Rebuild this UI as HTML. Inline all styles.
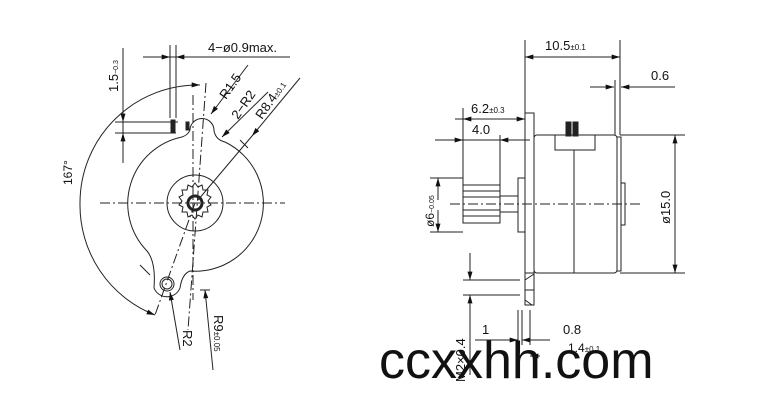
<!DOCTYPE html><html><head><style>body{margin:0;background:#fff}svg{display:block}text{font-family:"Liberation Sans",sans-serif;fill:#111}</style></head><body>
<svg width="757" height="406" viewBox="0 0 757 406" xmlns="http://www.w3.org/2000/svg">
<defs><marker id="a" viewBox="0 0 10 6" refX="10" refY="3" markerWidth="9" markerHeight="5" orient="auto-start-reverse" markerUnits="userSpaceOnUse"><path d="M0,0L10,3L0,6z" fill="#111"/></marker></defs>
<g stroke="#222" stroke-width="1" fill="none">
<!-- left view -->
<path d="M182,137 Q188,135 190,130 A12,12 0 1 1 214,131 Q216,140 225,142 A68,68 0 0 1 190,271 Q182,274 180,288 A14,14 0 0 1 154,288 Q156,262 147,251 A68,68 0 0 1 182,137 Z"/>
<circle cx="195" cy="203" r="28"/>
<circle cx="195" cy="203" r="7" stroke-width="3"/>
<path d="M195,183 l3,4 l4,-2 l1,5 l5,0 l-1,5 l4,2 l-3,4 l3,4 l-4,2 l1,5 l-5,0 l-1,5 l-4,-2 l-3,4 l-3,-4 l-4,2 l-1,-5 l-5,0 l1,-5 l-4,-2 l3,-4 l-3,-4 l4,-2 l-1,-5 l5,0 l1,-5 l4,2 z"/>
<circle cx="167" cy="284" r="7"/><circle cx="167" cy="284" r="5"/>
<rect x="171" y="120" width="4" height="12" fill="#222"/><rect x="186" y="122" width="3" height="8" fill="#222"/>
<path d="M80,203 A118,118 0 0 1 200,85" marker-end="url(#a)"/>
<path d="M80,203 A118,118 0 0 0 155,315" marker-end="url(#a)"/>
<g stroke-dasharray="10,3,2,3"><path d="M100,203H285M193,95V300M206,83L188,330M195,203L155,315"/></g>
<path d="M143,57H290"/>
<path d="M170,45V118M176,45V118"/>
<path d="M150,57H170" marker-end="url(#a)"/><path d="M196,57H176" marker-end="url(#a)"/>
<path d="M123,48V163"/><path d="M115,122H178M115,133H176"/>
<path d="M123,100V122" marker-end="url(#a)"/><path d="M123,150V133" marker-end="url(#a)"/>
<path d="M248,65L211,114" marker-end="url(#a)"/>
<path d="M268,92L222,137" marker-end="url(#a)"/>
<path d="M300,78L252,136" marker-end="url(#a)"/><path d="M252,136L198,200"/>
<path d="M240,140L248,148M140,265L150,275M200,290L210,290"/>
<path d="M180,350L170,292" marker-end="url(#a)"/>
<path d="M213,370L205,290" marker-end="url(#a)"/>
<!-- right view -->
<rect x="525" y="113" width="9" height="160"/>
<rect x="534" y="135" width="83" height="138" rx="3"/>
<path d="M555,135V150H595V135M574,150V273"/>
<rect x="566" y="122" width="5" height="14" fill="#222"/><rect x="573" y="122" width="5" height="14" fill="#222"/>
<rect x="617" y="137" width="4" height="134"/>
<rect x="621" y="183" width="4" height="42"/>
<rect x="463" y="185" width="37" height="38"/>
<path d="M463,191H500M463,197H500M463,210H500M463,216H500"/>
<path d="M500,196H518M500,212H518"/>
<rect x="518" y="178" width="7" height="54"/>
<rect x="525" y="273" width="9" height="32"/>
<path d="M525,280L534,274M525,300L532,305M525,290L534,290" />
<path d="M450,204H640" stroke-dasharray="10,3,2,3"/>
<path d="M525,40V113M620,40V135M615,80V135M620,80V135"/>
<path d="M545,57H525" marker-end="url(#a)"/><path d="M600,57H620" marker-end="url(#a)"/><path d="M545,57H600"/>
<path d="M590,87H614" marker-end="url(#a)"/><path d="M675,87H621" marker-end="url(#a)"/>
<path d="M463,108V185M500,135V185M455,119H525"/>
<path d="M475,119H463" marker-end="url(#a)"/><path d="M510,119H525" marker-end="url(#a)"/>
<path d="M435,140H463" marker-end="url(#a)"/><path d="M530,140H500" marker-end="url(#a)"/><path d="M463,140H500"/>
<path d="M620,135H685M620,273H685"/>
<path d="M675,165V135" marker-end="url(#a)"/><path d="M675,240V273" marker-end="url(#a)"/><path d="M675,165V240"/>
<path d="M430,178H463M430,232H463"/>
<path d="M438,200V178" marker-end="url(#a)"/><path d="M438,210V232" marker-end="url(#a)"/>
<path d="M463,280H520M463,295H520"/>
<path d="M470,253V280" marker-end="url(#a)"/><path d="M470,320V295" marker-end="url(#a)"/><path d="M470,320V375"/>
<path d="M518,310V345M522,310V345M530,310V345"/>
<path d="M475,340H518" marker-end="url(#a)"/><path d="M550,340H522" marker-end="url(#a)"/>
<path d="M540,356H530" marker-end="url(#a)"/>
</g>
<text x="208" y="52" font-size="13">4−ø0.9max.</text>
<text transform="translate(118,92) rotate(-90)" font-size="13">1.5<tspan font-size="7">−0.3</tspan></text>
<text transform="translate(226,100) rotate(-55)" font-size="13">R1.5</text>
<text transform="translate(238,120) rotate(-55)" font-size="13">2−R2</text>
<text transform="translate(262,120) rotate(-55)" font-size="13">R8.4<tspan font-size="8">±0.1</tspan></text>
<text transform="translate(72,185) rotate(-90)" font-size="12">167°</text>
<text transform="translate(183,330) rotate(90)" font-size="13">R2</text>
<text transform="translate(214,315) rotate(90)" font-size="13">R9<tspan font-size="8">±0.05</tspan></text>
<text x="545" y="50" font-size="13">10.5<tspan font-size="8">±0.1</tspan></text>
<text x="651" y="80" font-size="13">0.6</text>
<text x="471" y="113" font-size="13">6.2<tspan font-size="8">±0.3</tspan></text>
<text x="472" y="134" font-size="13">4.0</text>
<text transform="translate(434,227) rotate(-90)" font-size="12">ø6<tspan font-size="7">−0.05</tspan></text>
<text transform="translate(670,224) rotate(-90)" font-size="13">ø15.0</text>
<text x="482" y="334" font-size="13">1</text>
<text x="563" y="334" font-size="13">0.8</text>
<text x="568" y="352" font-size="12">1.4<tspan font-size="8">±0.1</tspan></text>
<text transform="translate(465,382) rotate(-90)" font-size="13">M2×0.4</text>
<text x="379" y="378" font-size="52">ccxxhh.com</text>
</svg></body></html>
